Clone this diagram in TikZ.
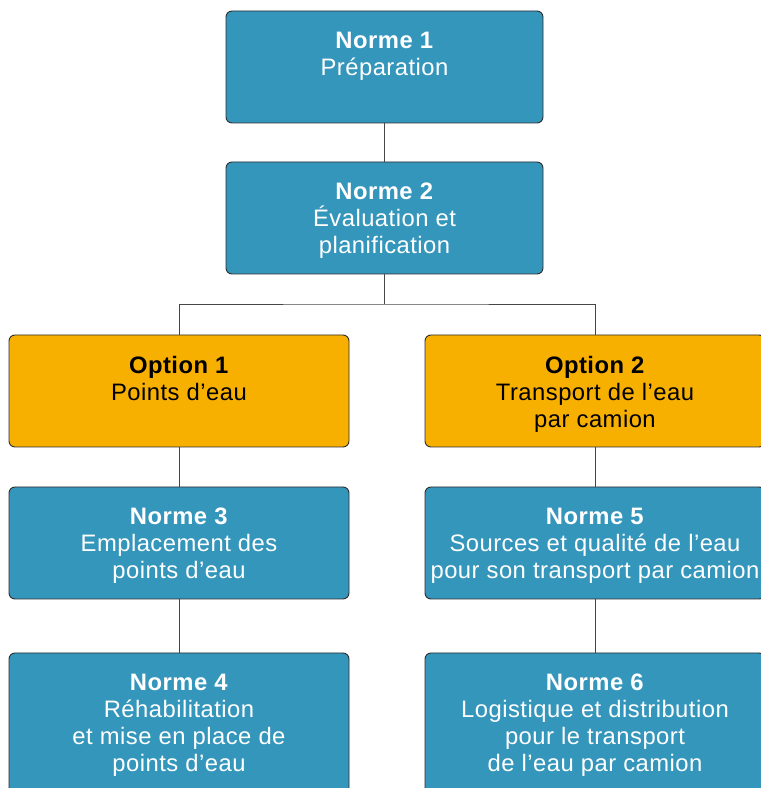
\documentclass[tikz,border=0pt]{standalone}
\usepackage{fontspec}
\setmainfont{Liberation Sans}[LetterSpace=2]
\usetikzlibrary{positioning}
\definecolor{boxblue}{RGB}{53,150,188}
\definecolor{boxorange}{RGB}{248,176,0}
\definecolor{edgegray}{RGB}{45,45,45}
\definecolor{linegray}{RGB}{70,70,70}
\tikzset{
  boxbase/.style={draw=edgegray, line width=0.9pt, rounded corners=6pt, inner sep=0pt},
  bluebox/.style={boxbase, fill=boxblue, minimum height=112pt},
  orangebox/.style={boxbase, fill=boxorange, minimum height=112pt, minimum width=340pt},
  topbox/.style={bluebox, minimum width=317pt},
  sidebox/.style={bluebox, minimum width=340pt},
  tallbox/.style={boxbase, fill=boxblue, minimum width=340pt, minimum height=160pt},
  wtext/.style={text=white, align=center, inner sep=0pt, font=\fontsize{23.8}{27}\selectfont},
  ktext/.style={text=black, align=center, inner sep=0pt, font=\fontsize{23.8}{27}\selectfont},
  conn/.style={draw=linegray, line width=0.9pt}
}
\begin{document}
\begin{tikzpicture}[x=1pt,y=1pt]
\useasboundingbox (0,0) rectangle (761,788);
\clip (0,0) rectangle (761,788);
% boxes
\node[topbox] (n1) at (384.5,721) {};
\node[topbox] (n2) at (384.5,570) {};
\node[orangebox] (o1) at (179,397) {};
\node[orangebox] (o2) at (595,397) {};
\node[sidebox] (n3) at (179,245) {};
\node[sidebox] (n5) at (595,245) {};
\node[tallbox] (n4) at (179,55) {};
\node[tallbox] (n6) at (595,55) {};
% connectors
\coordinate (j) at (384.5,484);
\draw[conn] (n1.south) -- (n2.north);
\draw[conn] (n2.south) -- (j);
\draw[conn] (o1.north) |- (j) -| (o2.north);
\draw[conn] (o1.south) -- (n3.north);
\draw[conn] (n3.south) -- (n4.north);
\draw[conn] (o2.south) -- (n5.north);
\draw[conn] (n5.south) -- (n6.north);
% texts
\node[wtext, below=21.5pt of n1.north] (t1) {\textbf{Norme 1}\\Préparation};
\node[wtext, below=21.5pt of n2.north] (t2) {\textbf{Norme 2}\\Évaluation et\\planification};
\node[ktext, below=22pt of o1.north] (to1) {\textbf{Option 1}\\Points d’eau};
\node[ktext, below=22pt of o2.north] (to2) {\textbf{Option 2}\\Transport de l’eau\\par camion};
\node[wtext, below=21.5pt of n3.north] (t3) {\textbf{Norme 3}\\Emplacement des\\points d’eau};
\node[wtext, below=21.5pt of n5.north] (t5) {\textbf{Norme 5}\\Sources et qualité de l’eau\\pour son transport par camion};
\node[wtext, below=21.5pt of n4.north] (t4) {\textbf{Norme 4}\\Réhabilitation\\et mise en place de\\points d’eau};
\node[wtext, below=21.5pt of n6.north] (t6) {\textbf{Norme 6}\\Logistique et distribution\\pour le transport\\de l’eau par camion};
\end{tikzpicture}
\end{document}
